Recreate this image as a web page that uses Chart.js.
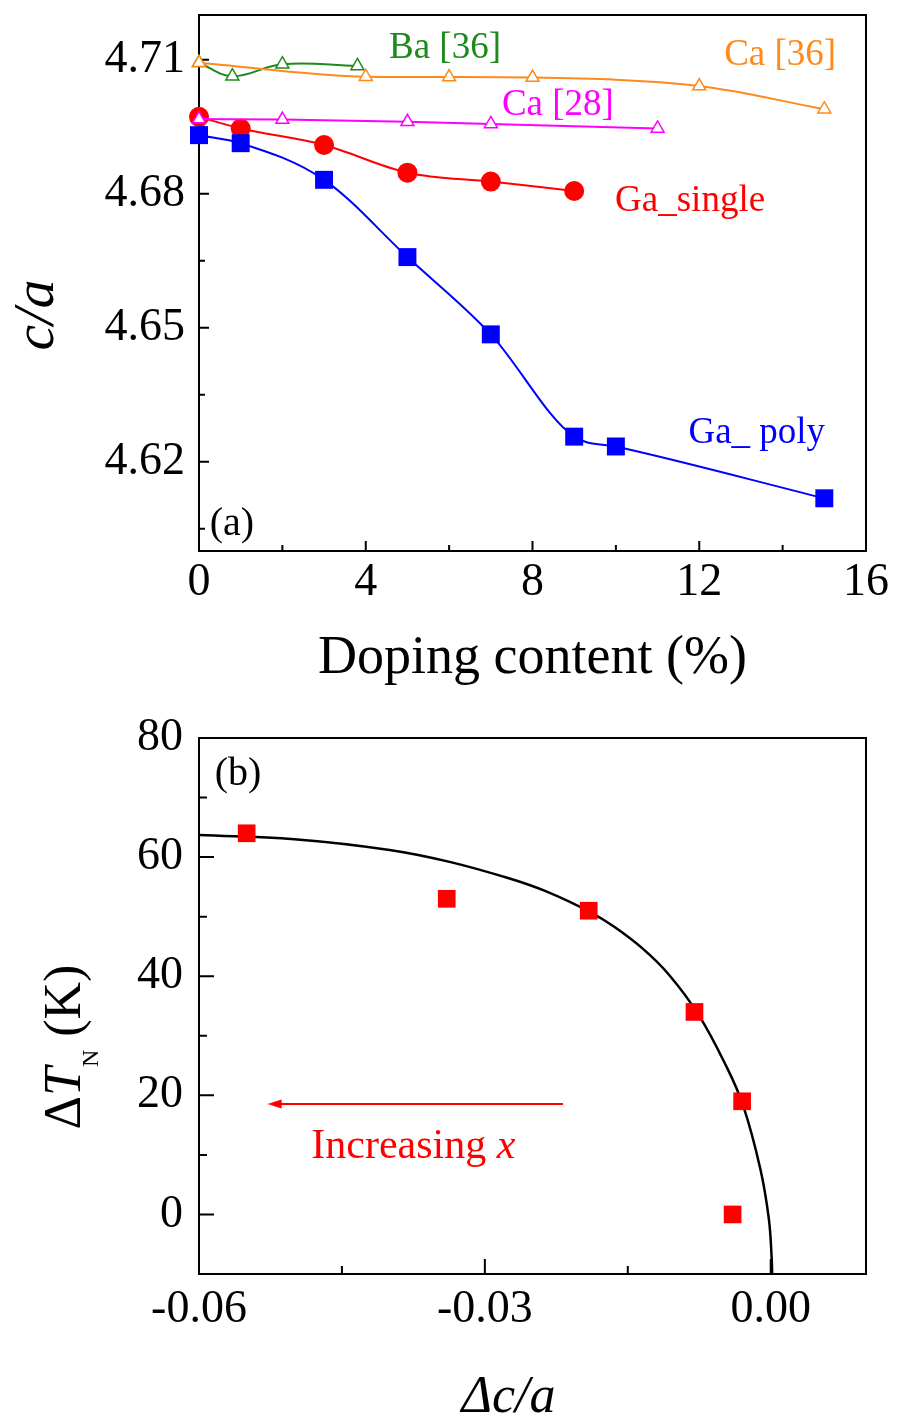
<!DOCTYPE html>
<html>
<head>
<meta charset="utf-8">
<script src="https://cdn.jsdelivr.net/npm/chart.js@4.4.1/dist/chart.umd.min.js"></script>
<style>
  html, body { margin: 0; padding: 0; background: #fff; }
  #page { position: relative; width: 898px; height: 1421px; }
  canvas { position: absolute; left: 0; }
  #top { top: 0; }
  #bottom { top: 700px; }
</style>
</head>
<body>
<div id="page">
  <canvas id="top" width="898" height="700"></canvas>
  <canvas id="bottom" width="898" height="721"></canvas>
</div>
<script>
const FONT = '"Liberation Serif", "Times New Roman", Times, serif'

// (a) c/a against doping content
const dopingPoly = [0, 1, 3, 5, 7, 9, 10, 15]
const ratioPoly = [4.6931, 4.6913, 4.6831, 4.6658, 4.6485, 4.6256, 4.6234, 4.6118]
const dopingSingle = [0, 1, 3, 5, 7, 9]
const ratioSingle = [4.6972, 4.6946, 4.6909, 4.6847, 4.6827, 4.6806]
const dopingCa28 = [0, 2, 5, 7, 11]
const ratioCa28 = [4.6967, 4.6966, 4.6961, 4.6956, 4.6946]
const dopingCa36 = [0, 4, 6, 8, 12, 15]
const ratioCa36 = [4.7093, 4.7062, 4.7061, 4.7060, 4.7041, 4.6989]
const dopingBa36 = [0, 0.8, 2, 3.8]
const ratioBa36 = [4.7093, 4.7063, 4.7090, 4.7086]

const dopingTicks = [0, 4, 8, 12, 16]
const dopingMinor = [2, 6, 10, 14]
const ratioTicks = [4.62, 4.65, 4.68, 4.71]
const ratioMinor = [4.605, 4.635, 4.665, 4.695]

// (b) shift of T_N against change of c/a
const deltaRatio = [-0.055, -0.034, -0.0191, -0.008, -0.003, -0.004]
const deltaTN = [64, 53, 51, 34, 19, 0]
const fitRatio = [-0.06, -0.05, -0.04, -0.0337, -0.0274, -0.0235, -0.0191, -0.0165, -0.0134, -0.0107, -0.0076, -0.0047, -0.0029, -0.0011, -0.0002, 0.0001, 0.00015]
const fitTN = [63.7, 63.0, 61.2, 59.2, 56.4, 54.2, 50.9, 48.4, 44.6, 40.3, 33.6, 25.0, 18.3, 7.7, -0.7, -7.3, -10]

const deltaTicks = [-0.06, -0.03, 0]
const deltaMinor = [-0.045, -0.015]
const tnTicks = [0, 20, 40, 60, 80]
const tnMinor = [10, 30, 50, 70]

function pts(xs, ys) {
  return xs.map((x, i) => ({ x, y: ys[i] }))
}

function drawRich(ctx, parts, x, y, opts) {
  ctx.save()
  ctx.translate(x, y)
  if (opts.rotate) ctx.rotate(opts.rotate)
  ctx.fillStyle = opts.color || '#000'
  ctx.textBaseline = 'alphabetic'
  const fontOf = p => (p.italic ? 'italic ' : '') + p.size + 'px ' + FONT
  let total = 0
  parts.forEach(p => { ctx.font = fontOf(p); total += ctx.measureText(p.text).width })
  let cx = opts.align === 'left' ? 0 : -total / 2
  parts.forEach(p => {
    ctx.font = fontOf(p)
    ctx.fillText(p.text, cx, p.dy || 0)
    cx += ctx.measureText(p.text).width
  })
  ctx.restore()
}

// box round the plot with inward major and minor ticks
const framePlugin = {
  id: 'frame',
  beforeDatasetsDraw(chart, args, opts) {
    const { ctx, chartArea: a, scales: { x, y } } = chart
    ctx.save()
    ctx.strokeStyle = '#000'
    ctx.lineWidth = 2
    ctx.strokeRect(a.left, a.top, a.right - a.left, a.bottom - a.top)
    ctx.beginPath()
    x.ticks.forEach(t => {
      const p = x.getPixelForValue(t.value)
      ctx.moveTo(p, a.bottom); ctx.lineTo(p, a.bottom - opts.major)
    })
    opts.xMinor.forEach(v => {
      const p = x.getPixelForValue(v)
      ctx.moveTo(p, a.bottom); ctx.lineTo(p, a.bottom - opts.minor)
    })
    y.ticks.forEach(t => {
      const p = y.getPixelForValue(t.value)
      ctx.moveTo(a.left, p); ctx.lineTo(a.left + opts.major, p)
    })
    opts.yMinor.forEach(v => {
      const p = y.getPixelForValue(v)
      ctx.moveTo(a.left, p); ctx.lineTo(a.left + opts.minor, p)
    })
    ctx.stroke()
    ctx.restore()
  }
}

// series labels, panel letters, arrow and axis titles
const notesPlugin = {
  id: 'notes',
  afterDraw(chart, args, opts) {
    const { ctx, chartArea: a, scales: { x, y } } = chart
    opts.items.forEach(it => {
      drawRich(ctx, it.parts, x.getPixelForValue(it.x), y.getPixelForValue(it.y), { color: it.color })
    })
    if (opts.arrow) {
      const r = opts.arrow
      const x1 = x.getPixelForValue(r.from), x2 = x.getPixelForValue(r.to), py = y.getPixelForValue(r.y)
      ctx.save()
      ctx.strokeStyle = r.color
      ctx.fillStyle = r.color
      ctx.lineWidth = 2
      ctx.beginPath()
      ctx.moveTo(x1, py); ctx.lineTo(x2 + 8, py)
      ctx.stroke()
      ctx.beginPath()
      ctx.moveTo(x2, py); ctx.lineTo(x2 + 14, py - 4.5); ctx.lineTo(x2 + 14, py + 4.5)
      ctx.closePath()
      ctx.fill()
      ctx.restore()
    }
    const cx = (a.left + a.right) / 2
    const t = opts.xTitle
    drawRich(ctx, t.parts, cx + t.dx, a.bottom + t.dy, {})
    const v = opts.yTitle
    drawRich(ctx, v.parts, a.left + v.dx, (a.top + a.bottom) / 2 + v.dy, { rotate: -Math.PI / 2 })
  }
}

function axis(min, max, ticks, fmt, size, pad, fitFn) {
  return {
    type: 'linear', min, max,
    afterBuildTicks: s => { s.ticks = ticks.map(v => ({ value: v })) },
    afterFit: s => { fitFn(s); s.paddingTop = 0; s.paddingBottom = 0; s.paddingLeft = 0; s.paddingRight = 0 },
    grid: { display: false, drawTicks: false },
    border: { display: false },
    ticks: { font: { family: FONT, size }, color: '#000', padding: pad, maxRotation: 0, autoSkip: false, callback: fmt }
  }
}

function lineSet(data, color, extra) {
  return Object.assign({
    data, showLine: true, borderColor: color, borderWidth: 2, clip: false,
    cubicInterpolationMode: 'monotone',
    pointBackgroundColor: color, pointBorderColor: color, pointBorderWidth: 0
  }, extra)
}

const openTriangle = color => ({
  pointStyle: 'triangle', pointRadius: 7.5, pointBackgroundColor: '#fff',
  pointBorderColor: color, pointBorderWidth: 1.5
})

const common = {
  responsive: false, animation: false, events: [], devicePixelRatio: 1,
  plugins: { legend: { display: false }, tooltip: { enabled: false } }
}

const orange = '#FF8A1C', green = '#1D8A1D', magenta = '#FF00FF', red = '#FF0000', blue = '#0000FF'

new Chart(document.getElementById('top'), {
  type: 'scatter',
  data: {
    datasets: [
      lineSet(pts(dopingCa36, ratioCa36), orange, openTriangle(orange)),
      lineSet(pts(dopingCa28, ratioCa28), magenta, openTriangle(magenta)),
      lineSet(pts(dopingBa36, ratioBa36), green, Object.assign(openTriangle(green), { cubicInterpolationMode: 'default', tension: 0.4 })),
      lineSet(pts(dopingPoly, ratioPoly), blue, { pointStyle: 'rect', pointRadius: 12.7 }),
      lineSet(pts(dopingSingle, ratioSingle), red, { pointStyle: 'circle', pointRadius: 10 })
    ]
  },
  options: Object.assign({}, common, {
    layout: { padding: { left: 0, top: 15, right: 32, bottom: 0 } },
    scales: {
      x: axis(0, 16, dopingTicks, v => String(v), 46, 4, s => { s.height = 149 }),
      y: axis(4.60, 4.72, ratioTicks, v => v.toFixed(2), 46, 14, s => { s.width = 199 })
    },
    plugins: Object.assign({}, common.plugins, {
      frame: { major: 10, minor: 6, xMinor: dopingMinor, yMinor: ratioMinor },
      notes: {
        items: [
          { parts: [{ text: 'Ba [36]', size: 37 }], x: 5.9, y: 4.7104, color: green },
          { parts: [{ text: 'Ca [36]', size: 37 }], x: 13.94, y: 4.7088, color: orange },
          { parts: [{ text: 'Ca [28]', size: 37 }], x: 8.61, y: 4.6976, color: magenta },
          { parts: [{ text: 'Ga_single', size: 37 }], x: 11.78, y: 4.6762, color: red },
          { parts: [{ text: 'Ga_ poly', size: 37 }], x: 13.38, y: 4.6241, color: blue },
          { parts: [{ text: '(a)', size: 40 }], x: 0.79, y: 4.6036, color: '#000' }
        ],
        xTitle: { parts: [{ text: 'Doping content (%)', size: 54 }], dx: 0, dy: 122 },
        yTitle: { parts: [{ text: 'c/a', size: 58, italic: true }], dx: -146, dy: 32 }
      }
    })
  }),
  plugins: [framePlugin, notesPlugin]
})

new Chart(document.getElementById('bottom'), {
  type: 'scatter',
  data: {
    datasets: [
      { data: pts(deltaRatio, deltaTN), pointStyle: 'rect', pointRadius: 12.5, pointBackgroundColor: red, pointBorderWidth: 0, clip: false },
      lineSet(pts(fitRatio, fitTN), '#000', { borderWidth: 2.5, pointRadius: 0, cubicInterpolationMode: 'default', tension: 0.4 })
    ]
  },
  options: Object.assign({}, common, {
    layout: { padding: { left: 0, top: 38, right: 32, bottom: 0 } },
    scales: {
      x: axis(-0.06, 0.01, deltaTicks, v => v.toFixed(2), 46, 8, s => { s.height = 147 }),
      y: axis(-10, 80, tnTicks, v => String(v), 46, 16, s => { s.width = 199 })
    },
    plugins: Object.assign({}, common.plugins, {
      frame: { major: 15, minor: 8, xMinor: deltaMinor, yMinor: tnMinor },
      notes: {
        items: [
          { parts: [{ text: '(b)', size: 40 }], x: -0.0559, y: 72.1, color: '#000' },
          { parts: [{ text: 'Increasing ', size: 42 }, { text: 'x', size: 42, italic: true }], x: -0.0375, y: 9.5, color: red }
        ],
        arrow: { from: -0.0218, to: -0.0528, y: 18.55, color: red },
        xTitle: { parts: [{ text: '\u0394c/a', size: 52, italic: true }], dx: -24, dy: 138 },
        yTitle: {
          parts: [
            { text: '\u0394', size: 52 },
            { text: 'T', size: 52, italic: true },
            { text: 'N', size: 24, dy: 18 },
            { text: ' (K)', size: 52 }
          ],
          dx: -119, dy: 41
        }
      }
    })
  }),
  plugins: [framePlugin, notesPlugin]
})
</script>
</body>
</html>
